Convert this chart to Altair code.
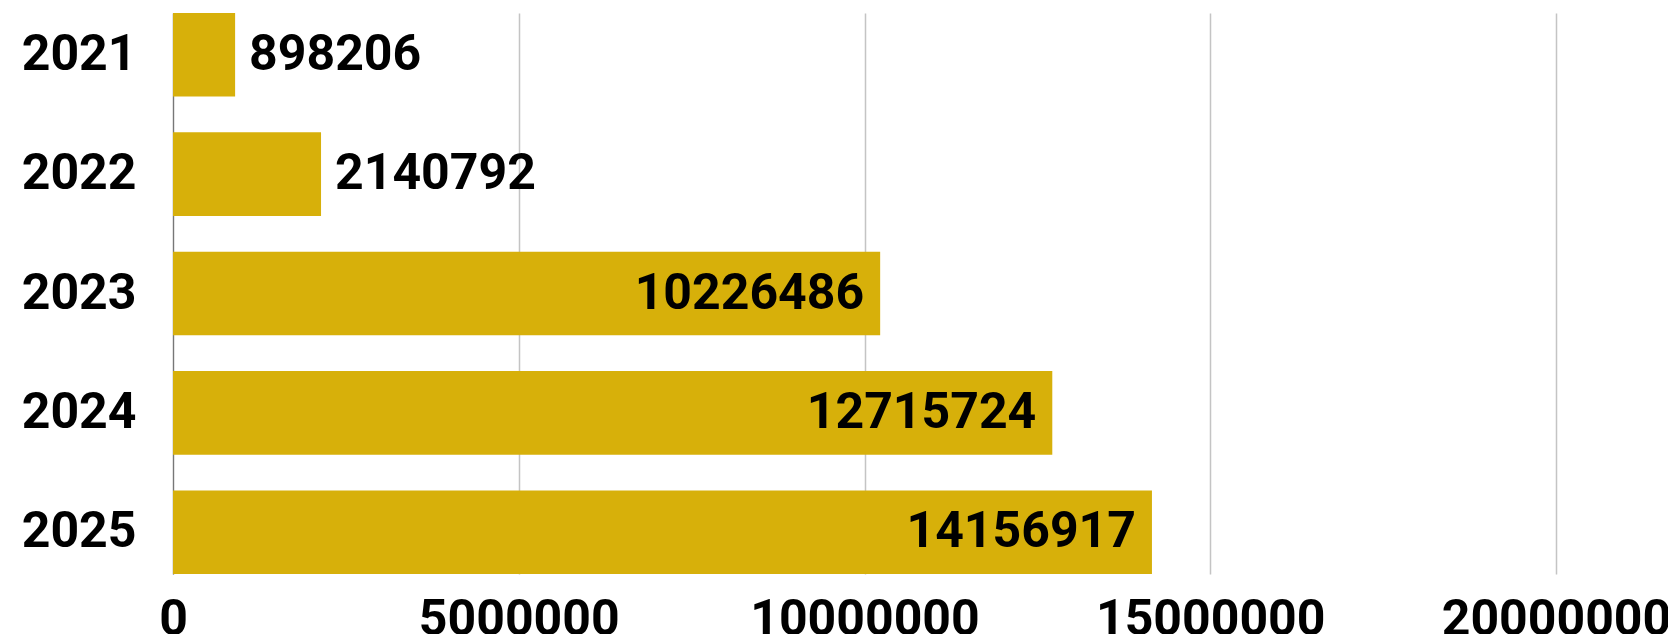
import altair as alt
import pandas as pd

years = ["2021", "2022", "2023", "2024", "2025"]
values = [898206, 2140792, 10226486, 12715724, 14156917]
x_ticks = [0, 5000000, 10000000, 15000000, 20000000]

df = pd.DataFrame({"year": years, "value": values})

FONT = "Roboto"
BAR = "#D7B00A"
FS = 50

base = alt.Chart(df).encode(
    y=alt.Y("year:N", sort=years, title=None,
            scale=alt.Scale(paddingInner=0.3, paddingOuter=0),
            axis=alt.Axis(labelFont=FONT, labelFontSize=FS, labelFontWeight="bold",
                          labelColor="black", labelPadding=37, ticks=False,
                          domain=True, domainColor="#777", domainWidth=1.2, grid=False)),
)

bars = base.mark_bar(color=BAR).encode(
    x=alt.X("value:Q", title=None,
            scale=alt.Scale(domain=[0, 20000000], nice=False),
            axis=alt.Axis(values=x_ticks, format="d", labelFont=FONT, labelFontSize=FS,
                          labelFontWeight="bold", labelColor="black", labelPadding=20,
                          labelLimit=0, labelOverlap=False,
                          ticks=False, domain=False, grid=True, gridColor="#c4c4c4",
                          gridWidth=1.5, labelFlush=False)),
)

outside = base.mark_text(align="left", baseline="middle", dx=14, font=FONT,
                         fontSize=FS, fontWeight="bold", color="black").encode(
    x="value:Q", text=alt.Text("value:Q", format="d")
).transform_filter("datum.value < 5000000")

inside = base.mark_text(align="right", baseline="middle", dx=-16, font=FONT,
                        fontSize=FS, fontWeight="bold", color="black").encode(
    x="value:Q", text=alt.Text("value:Q", format="d")
).transform_filter("datum.value >= 5000000")

chart = (bars + outside + inside).properties(
    width=1383, height=561,
    padding={"left": 165, "top": 5, "right": 112, "bottom": 60},
    autosize="none",
).configure_view(stroke=None)

chart.save("out.html", embed_options={"renderer": "svg", "actions": False})
